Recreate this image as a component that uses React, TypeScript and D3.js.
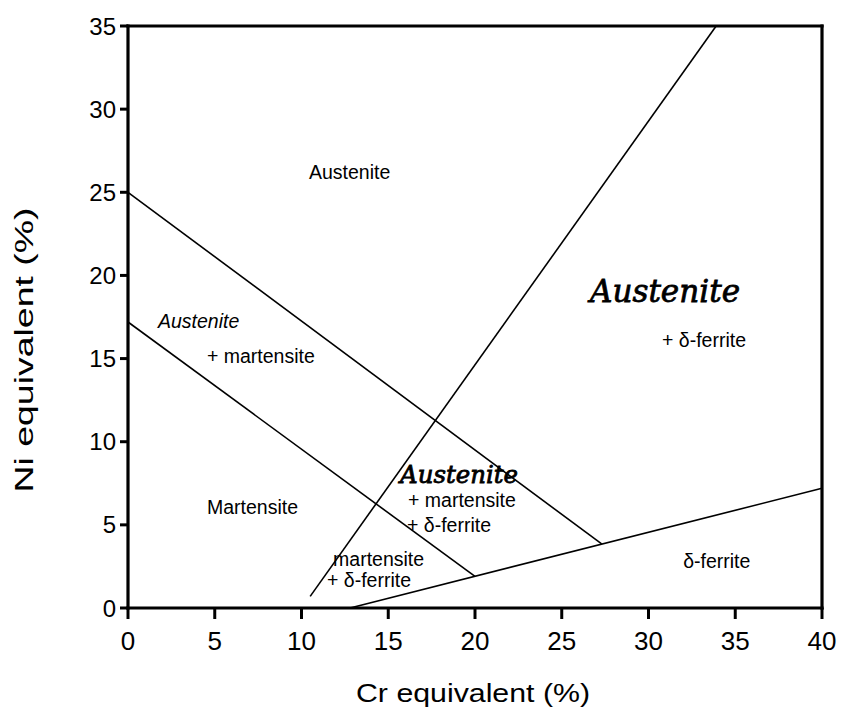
import React from "react";
import * as d3 from "d3";

// Schaeffler-type constitution diagram: Cr equivalent vs Ni equivalent

const xTicks = [0, 5, 10, 15, 20, 25, 30, 35, 40];
const yTicks = [0, 5, 10, 15, 20, 25, 30, 35];

// Phase boundaries, [Cr eq, Ni eq]
const austeniteUpperBoundary: [number, number][] = [[0, 25], [27.3, 3.85]];
const martensiteUpperBoundary: [number, number][] = [[0, 17.2], [20, 1.9]];
const ferriteOnsetBoundary: [number, number][] = [[10.5, 0.7], [33.9, 35]];
const ferriteBoundary: [number, number][] = [[12.8, 0], [40, 7.2]];

const boundaries = [
  austeniteUpperBoundary,
  martensiteUpperBoundary,
  ferriteOnsetBoundary,
  ferriteBoundary,
];

// Region names (printed)
const printedLabels = [
  { text: "Austenite", x: 10.43, y: 25.8, italic: false },
  { text: "Austenite", x: 1.73, y: 16.84, italic: true },
  { text: "+ martensite", x: 4.55, y: 14.73, italic: false },
  { text: "Martensite", x: 4.55, y: 5.65, italic: false },
  { text: "+ martensite", x: 16.14, y: 6.07, italic: false },
  { text: "+ δ-ferrite", x: 16.08, y: 4.57, italic: false },
  { text: "martensite", x: 11.82, y: 2.53, italic: false },
  { text: "+ δ-ferrite", x: 11.47, y: 1.26, italic: false },
  { text: "+ δ-ferrite", x: 30.78, y: 15.69, italic: false },
  { text: "δ-ferrite", x: 32.0, y: 2.41, italic: false },
];

// Region names (handwritten)
const handLabels = [
  { text: "Austenite", x: 15.68, y: 7.52, width: 118, size: 24 },
  { text: "Austenite", x: 26.63, y: 18.4, width: 150, size: 32 },
];

const W = 842;
const H = 719;
const font = "'Liberation Sans', Arial, Helvetica, sans-serif";

export default function App() {
  const x = d3.scaleLinear().domain([0, 40]).range([128, 822]);
  const y = d3.scaleLinear().domain([0, 35]).range([608, 26]);
  const line = d3
    .line<[number, number]>()
    .x((d) => x(d[0]))
    .y((d) => y(d[1]));

  const [x0, x1] = x.range();
  const [y0, y1] = y.range();

  return (
    <svg
      width={W}
      height={H}
      viewBox={`0 0 ${W} ${H}`}
      style={{ position: "absolute", left: 0, top: 0, background: "#fff" }}
      fontFamily={font}
    >
      <rect x={0} y={0} width={W} height={H} fill="#fff" />

      {/* phase boundaries */}
      <g fill="none" stroke="#000" strokeWidth={1.6}>
        {boundaries.map((b, i) => (
          <path key={i} d={line(b) ?? ""} />
        ))}
      </g>

      {/* frame */}
      <g stroke="#000" strokeWidth={3.2} fill="none" strokeLinecap="square">
        <line x1={x0} y1={y0} x2={x1} y2={y0} />
        <line x1={x0} y1={y0} x2={x0} y2={y1} />
        <line x1={x0} y1={y1} x2={x1} y2={y1} />
        <line x1={x1} y1={y1} x2={x1} y2={y0} />
      </g>

      {/* x axis */}
      <g>
        {xTicks.map((t) => (
          <g key={t} transform={`translate(${x(t)},0)`}>
            <line y1={y0} y2={y0 + 11} stroke="#000" strokeWidth={3} />
            <text
              y={650}
              textAnchor="middle"
              fontSize={26}
              fill="#000"
            >
              {t}
            </text>
          </g>
        ))}
        <text
          x={473}
          y={702}
          textAnchor="middle"
          fontSize={25}
          textLength={234}
          lengthAdjust="spacingAndGlyphs"
          fill="#000"
        >
          Cr equivalent (%)
        </text>
      </g>

      {/* y axis */}
      <g>
        {yTicks.map((t) => (
          <g key={t} transform={`translate(0,${y(t)})`}>
            <line x1={x0 - 8} x2={x0} stroke="#000" strokeWidth={3} />
            <text
              x={116}
              dy="0.36em"
              textAnchor="end"
              fontSize={24}
              fill="#000"
            >
              {t}
            </text>
          </g>
        ))}
        <text
          transform={`translate(33,350) rotate(-90)`}
          textAnchor="middle"
          fontSize={26}
          textLength={285}
          lengthAdjust="spacingAndGlyphs"
          fill="#000"
        >
          Ni equivalent (%)
        </text>
      </g>

      {/* region labels */}
      <g fontSize={19.5} fill="#000">
        {printedLabels.map((l, i) => (
          <text
            key={i}
            x={x(l.x)}
            y={y(l.y)}
            fontStyle={l.italic ? "italic" : "normal"}
          >
            {l.text}
          </text>
        ))}
      </g>

      <g
        fill="#000"
        stroke="#000"
        strokeWidth={0.8}
        fontFamily="'DejaVu Serif', 'Liberation Serif', serif"
        fontStyle="italic"
      >
        {handLabels.map((l, i) => (
          <text
            key={i}
            x={x(l.x)}
            y={y(l.y)}
            fontSize={l.size}
            textLength={l.width}
            lengthAdjust="spacingAndGlyphs"
          >
            {l.text}
          </text>
        ))}
      </g>
    </svg>
  );
}
